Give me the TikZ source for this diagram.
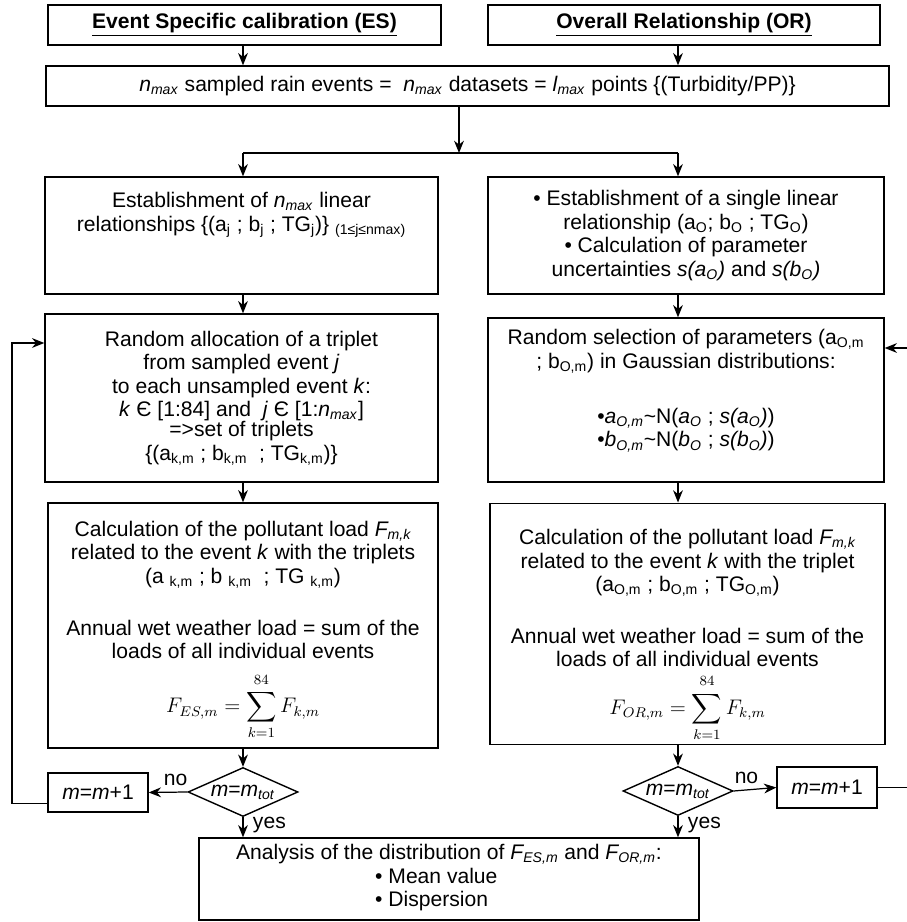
\documentclass[tikz,border=0pt]{standalone}
\usepackage{amsmath,amssymb}
\usepackage{fontspec}
\setmainfont{Liberation Sans}
\usetikzlibrary{shapes.geometric,arrows.meta}

\newcommand{\ix}[1]{\textsubscript{#1}}

\begin{document}
\begin{tikzpicture}[>={Stealth[length=7pt,width=5.6pt]},line width=0.7pt,
  font=\fontsize{12}{13.4}\selectfont,
  box/.style={draw,line width=0.8pt,align=center,inner sep=2pt},
  dec/.style={draw,line width=0.8pt,diamond,aspect=2.2,inner sep=-4pt,
    minimum width=2.2cm,minimum height=0.98cm}]
  \useasboundingbox (0,0) rectangle (18.12,18.44);
  % headers
  \node[box,minimum width=7.86cm,minimum height=0.8cm] (es) at (4.89,17.94)
    {\underline{\textbf{Event Specific calibration (ES)}}};
  \node[box,minimum width=7.84cm,minimum height=0.8cm] (orh) at (13.68,17.94)
    {\underline{\textbf{Overall Relationship (OR)}}};
  \node[box,minimum width=16.86cm,minimum height=0.8cm] (nmax) at (9.35,16.72)
    {\textit{n}\ix{\textit{max}} sampled rain events = \ \textit{n}\ix{\textit{max}} datasets = \textit{l}\ix{\textit{max}} points \{(Turbidity/PP)\}};
  \coordinate (split) at (9.18,15.38);
  % left column (ES)
  \node[box,minimum width=7.86cm,minimum height=2.34cm] (esrel) at (4.83,13.73)
    {Establishment of \textit{n}\ix{\textit{max}} linear\\
     relationships \{(a\ix{j} ; b\ix{j} ; TG\ix{j})\} \ix{(1≤j≤nmax)}\\ \mbox{}\\ \mbox{}};
  \node[box,minimum width=7.86cm,minimum height=3.36cm] (esalloc) at (4.83,10.48)
    {Random allocation of a triplet\\
     from sampled event \textit{j}\\
     to each unsampled event \textit{k}:\\
     \textit{k} Є [1:84] and \ \textit{j} Є [1:\textit{n}\ix{\textit{max}}]\\[-2pt]
     =>set of triplets\\
     \{(a\ix{k,m} ; b\ix{k,m} \ ; TG\ix{k,m})\}};
  \node[box,minimum width=7.8cm,minimum height=4.9cm] (esload) at (4.86,5.93)
    {\rule{0pt}{14.3pt}Calculation of the pollutant load \textit{F\ix{m,k}}\\
     related to the event \textit{k} with the triplets\\
     (a \ix{k,m} ; b \ix{k,m} \ ; TG \ix{k,m})\\[16pt]
     Annual wet weather load = sum of the\\
     loads of all individual events\\[7pt]
     $F_{ES,m}=\displaystyle\sum_{k=1}^{\rule[-2.5pt]{0pt}{2.5pt}84}F_{k,m}$};
  \node[dec] (esdec) at (4.86,2.6) {\textit{m}=\textit{m}\ix{\textit{tot}}};
  \node[box,minimum width=2cm,minimum height=0.78cm] (esinc) at (1.96,2.59)
    {\textit{m}=\textit{m}+1};
  % right column (OR)
  \node[box,minimum width=7.92cm,minimum height=2.34cm] (orrel) at (13.72,13.73)
    {• Establishment of a single linear\\
     relationship (a\ix{O}; b\ix{O} ; TG\ix{O})\\
     • Calculation of parameter\\
     uncertainties \textit{s(a\ix{O})} and \textit{s(b\ix{O})}};
  \node[box,minimum width=7.92cm,minimum height=3.28cm] (orsel) at (13.72,10.44)
    {Random selection of parameters (a\ix{O,m}\\
     ; b\ix{O,m}) in Gaussian distributions:\\[18pt]
     •\textit{a\ix{O,m}}\textasciitilde N(\textit{a\ix{O}} ; \textit{s(a\ix{O})})\\
     •\textit{b\ix{O,m}}\textasciitilde N(\textit{b\ix{O}} ; \textit{s(b\ix{O})})\\ \mbox{}};
  \node[box,minimum width=7.9cm,minimum height=4.36cm] (orload) at (13.75,5.96)
    {\rule{0pt}{21.6pt}Calculation of the pollutant load \textit{F\ix{m,k}}\\
     related to the event \textit{k} with the triplet\\
     (a\ix{O,m} ; b\ix{O,m} ; TG\ix{O,m})\\[16pt]
     Annual wet weather load = sum of the\\
     loads of all individual events\\[3pt]
     $F_{OR,m}=\displaystyle\sum_{k=1}^{\rule[-2.5pt]{0pt}{2.5pt}84}F_{k,m}$};
  \node[dec] (ordec) at (13.56,2.62) {\textit{m}=\textit{m}\ix{\textit{tot}}};
  \node[box,minimum width=2cm,minimum height=0.82cm] (orinc) at (16.54,2.69)
    {\textit{m}=\textit{m}+1};
  % result
  \node[box,minimum width=10cm,minimum height=1.64cm] (ana) at (8.98,0.86)
    {Analysis of the distribution of \textit{F\ix{ES,m}} and \textit{F\ix{OR,m}}:\\
     \begin{tabular}[t]{@{}l@{}}• Mean value\\• Dispersion\end{tabular}\hspace*{1.2em}};
  \coordinate (loopL) at (0.24,11.58);
  \coordinate (loopR) at (18.3,11.48);
  % connectors
  \draw[->] (es.south -| esdec) -- (nmax.north -| esdec);
  \draw[->] (orh.south -| ordec) -- (nmax.north -| ordec);
  \draw[->] (nmax.south -| split) -- (split);
  \draw (split -| esdec) -- (split -| ordec);
  \draw[->] (split -| esdec) -- (esrel.north -| esdec);
  \draw[->] (split -| ordec) -- (orrel.north -| ordec);
  \draw[->] (esrel.south -| esdec) -- (esalloc.north -| esdec);
  \draw[->] (orrel.south -| ordec) -- (orsel.north -| ordec);
  \draw[->] (esalloc.south -| esdec) -- (esload.north -| esdec);
  \draw[->] (orsel.south -| ordec) -- (orload.north -| ordec);
  \draw[->] (esload.south -| esdec) -- (esdec.north);
  \draw[->] (orload.south -| ordec) -- (ordec.north);
  \draw[->] (esdec.west) -- node[above,pos=0.3]{no} (esinc.east);
  \draw[->] (ordec.east) -- node[above,pos=0.3]{no} (orinc.west);
  \draw[->] (esdec.south) -- node[right,pos=0.4,xshift=2pt]{yes} (esdec.south |- ana.north);
  \draw[->] (ordec.south) -- node[right,pos=0.4,xshift=2pt]{yes} (ordec.south |- ana.north);
  \draw[->] ([yshift=-0.22cm]esinc.west) -| (loopL) -- (loopL -| esalloc.west);
  \draw[->] (orinc.east) -| (loopR) -- (loopR -| orsel.east);
\end{tikzpicture}
\end{document}
